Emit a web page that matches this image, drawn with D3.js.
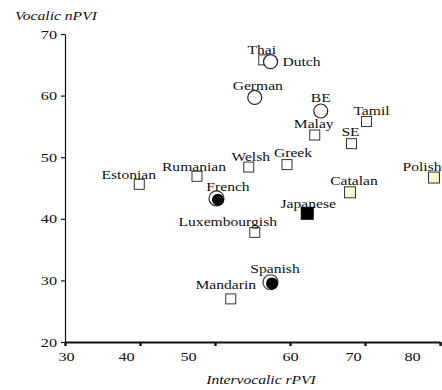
<!DOCTYPE html>
<html>
<head>
<meta charset="utf-8">
<script src="https://cdn.jsdelivr.net/npm/d3@7"></script>
<style>
  html, body { margin: 0; padding: 0; background: #fff; }
  svg { display: block; }
  text { font-family: "Liberation Serif", "Times New Roman", serif; fill: #111; }
</style>
</head>
<body>
<svg id="chart" width="442" height="390"></svg>
<script>
// Vocalic nPVI against intervocalic rPVI, one point per language
const languages = ["Thai", "Dutch", "German", "BE", "Tamil", "Malay", "SE", "Greek", "Welsh",
  "Rumanian", "Estonian", "Polish", "Catalan", "French", "Japanese", "Luxembourgish", "Spanish", "Mandarin"];
const intervocalicRPVI = [56.5, 57.4, 55.3, 64.1, 70.2, 63.3, 68.2, 59.6, 54.5,
  47.6, 39.9, 79.2, 68.0, 50.2, 62.3, 55.3, 57.4, 52.1];
const vocalicNPVI = [65.8, 65.5, 59.7, 57.5, 55.8, 53.6, 52.2, 48.8, 48.4,
  46.9, 45.6, 46.7, 44.3, 43.3, 40.9, 37.8, 29.7, 27.0];
const xTicks = [30, 40, 50, 60, 70, 80];
const yTicks = [20, 30, 40, 50, 60, 70];
const xTitle = "Intervocalic rPVI";
const yTitle = "Vocalic nPVI";

// Marker symbol per language (default: open square)
const markerKind = {
  Dutch: "ring", German: "ring", BE: "ring",
  French: "dot", Spanish: "dot",
  Japanese: "solid",
  Polish: "tinted", Catalan: "tinted"
};

// Label placement relative to each marker centre
const labelOffset = {
  Thai: [-2, -10], Dutch: [31, 0], German: [3, -12], BE: [0, -13], Tamil: [5, -10.5],
  Malay: [-1, -11], SE: [-1, -12], Greek: [6, -11.5], Welsh: [2, -10.5], Rumanian: [-3, -10],
  Estonian: [-10.5, -10], Polish: [-12, -11], Catalan: [4, -11.5], French: [11.5, -11.5],
  Japanese: [1, -10], Luxembourgish: [-27, -10.5], Spanish: [4.5, -14], Mandarin: [-5, -14.5]
};

// Horizontal nudge of each x tick label
const xLabelNudge = [1, -14, -27, 0, -12, -28];

const stretch = "scale(1.25,1)";
const svg = d3.select("#chart");

const x = d3.scaleLinear().domain([30, 80]).range([65, 440]);
const y = d3.scaleLinear().domain([20, 70]).range([342, 34]);

// Y axis
const yAxis = svg.append("g")
  .attr("transform", `translate(${x(30)},0)`)
  .call(d3.axisLeft(y).tickValues(yTicks).tickSize(4).tickSizeOuter(0).tickFormat(d3.format("d")));
yAxis.selectAll("path, line").attr("stroke", "#111").attr("stroke-width", 1.2);
yAxis.selectAll("text")
  .attr("x", 0)
  .attr("transform", `translate(-8,0) ${stretch}`)
  .style("font-size", "13px")
  .style("font-family", "'Liberation Serif', serif")
  .attr("fill", "#111");

// X axis
const xAxis = svg.append("g")
  .attr("transform", `translate(0,${y(20)})`)
  .call(d3.axisBottom(x).tickValues(xTicks).tickSize(4).tickSizeOuter(0).tickFormat(d3.format("d")));
xAxis.selectAll("path").attr("stroke", "#111").attr("stroke-width", 2.2);
xAxis.selectAll("line").attr("stroke", "#111").attr("stroke-width", 2.4);
xAxis.selectAll("text")
  .attr("x", 0)
  .attr("y", 0)
  .attr("dy", 0)
  .attr("transform", (d, i) => `translate(${xLabelNudge[i]},19) ${stretch}`)
  .style("font-size", "13px")
  .style("font-family", "'Liberation Serif', serif")
  .attr("fill", "#111");

// Axis titles
svg.append("text")
  .attr("transform", `translate(15,20) ${stretch}`)
  .attr("text-anchor", "start")
  .style("font-size", "12.5px")
  .style("font-style", "italic")
  .text(yTitle);

svg.append("text")
  .attr("transform", `translate(261,384) ${stretch}`)
  .attr("text-anchor", "middle")
  .style("font-size", "12.5px")
  .style("font-style", "italic")
  .text(xTitle);

// Points
const points = languages.map((name, i) => ({
  name, rpvi: intervocalicRPVI[i], npvi: vocalicNPVI[i], kind: markerKind[name] || "open"
}));

const marks = svg.append("g");
points.forEach(p => {
  const cx = x(p.rpvi), cy = y(p.npvi);
  const g = marks.append("g").attr("transform", `translate(${cx},${cy})`);
  if (p.kind === "ring") {
    g.append("circle").attr("r", 7).attr("fill", "#fff").attr("stroke", "#222").attr("stroke-width", 1.2);
  } else if (p.kind === "dot") {
    g.append("circle").attr("r", 7.5).attr("fill", "#fff").attr("stroke", "#333").attr("stroke-width", 1.2);
    g.append("circle").attr("cx", 1.5).attr("cy", 1.2).attr("r", 6).attr("fill", "#000");
  } else if (p.kind === "solid") {
    g.append("rect").attr("x", -6).attr("y", -6).attr("width", 12).attr("height", 12)
      .attr("fill", "#000").attr("stroke", "#000");
  } else if (p.kind === "tinted") {
    g.append("rect").attr("x", -5.5).attr("y", -5.5).attr("width", 11).attr("height", 11)
      .attr("fill", "#fbf8cc").attr("stroke", "#333").attr("stroke-width", 1);
  } else {
    g.append("rect").attr("x", -5).attr("y", -5).attr("width", 10).attr("height", 10)
      .attr("fill", "#fff").attr("stroke", "#333").attr("stroke-width", 1);
  }
});

// Language labels
const labels = svg.append("g");
points.forEach(p => {
  const [dx, dy] = labelOffset[p.name];
  labels.append("text")
    .attr("transform", `translate(${x(p.rpvi) + dx},${y(p.npvi) + dy}) ${stretch}`)
    .attr("text-anchor", "middle")
    .attr("dy", "0.35em")
    .style("font-size", "12.5px")
    .text(p.name);
});
</script>
</body>
</html>
